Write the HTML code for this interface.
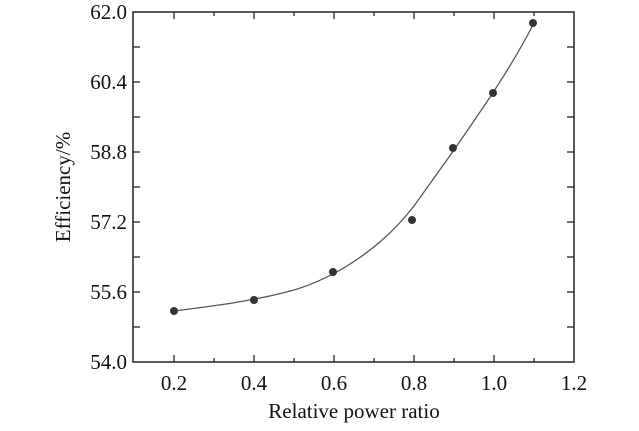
<!DOCTYPE html>
<html><head><style>
html,body{margin:0;padding:0;background:#fff;}
svg text{font-family:"Liberation Serif",serif;fill:#111;}
</style></head><body>
<svg width="639" height="426" xmlns="http://www.w3.org/2000/svg">
<rect x="133" y="12" width="441" height="350" fill="none" stroke="#222" stroke-width="1.5"/>
<g stroke="#222" stroke-width="1.3">
<line x1="174" y1="362" x2="174" y2="355"/><line x1="214" y1="362" x2="214" y2="358"/>
<line x1="254" y1="362" x2="254" y2="355"/><line x1="294" y1="362" x2="294" y2="358"/>
<line x1="334" y1="362" x2="334" y2="355"/><line x1="374" y1="362" x2="374" y2="358"/>
<line x1="414" y1="362" x2="414" y2="355"/><line x1="454" y1="362" x2="454" y2="358"/>
<line x1="494" y1="362" x2="494" y2="355"/><line x1="534" y1="362" x2="534" y2="358"/>
<line x1="174" y1="12" x2="174" y2="19"/><line x1="214" y1="12" x2="214" y2="16"/>
<line x1="254" y1="12" x2="254" y2="19"/><line x1="294" y1="12" x2="294" y2="16"/>
<line x1="334" y1="12" x2="334" y2="19"/><line x1="374" y1="12" x2="374" y2="16"/>
<line x1="414" y1="12" x2="414" y2="19"/><line x1="454" y1="12" x2="454" y2="16"/>
<line x1="494" y1="12" x2="494" y2="19"/><line x1="534" y1="12" x2="534" y2="16"/>
<line x1="133" y1="47" x2="140" y2="47"/><line x1="133" y1="82" x2="140" y2="82"/>
<line x1="133" y1="117" x2="140" y2="117"/><line x1="133" y1="152" x2="140" y2="152"/>
<line x1="133" y1="187" x2="140" y2="187"/><line x1="133" y1="222" x2="140" y2="222"/>
<line x1="133" y1="257" x2="140" y2="257"/><line x1="133" y1="292" x2="140" y2="292"/>
<line x1="133" y1="327" x2="140" y2="327"/>
<line x1="574" y1="47" x2="567" y2="47"/><line x1="574" y1="82" x2="567" y2="82"/>
<line x1="574" y1="117" x2="567" y2="117"/><line x1="574" y1="152" x2="567" y2="152"/>
<line x1="574" y1="187" x2="567" y2="187"/><line x1="574" y1="222" x2="567" y2="222"/>
<line x1="574" y1="257" x2="567" y2="257"/><line x1="574" y1="292" x2="567" y2="292"/>
<line x1="574" y1="327" x2="567" y2="327"/>
</g>
<g font-size="21" text-anchor="end">
<text x="127" y="19">62.0</text><text x="127" y="89">60.4</text>
<text x="127" y="159">58.8</text><text x="127" y="229">57.2</text>
<text x="127" y="299">55.6</text><text x="127" y="369">54.0</text>
</g>
<g font-size="21" text-anchor="middle">
<text x="174" y="390">0.2</text><text x="254" y="390">0.4</text><text x="334" y="390">0.6</text>
<text x="414" y="390">0.8</text><text x="494" y="390">1.0</text><text x="574" y="390">1.2</text>
<text x="354" y="418">Relative power ratio</text>
<text transform="translate(70,187) rotate(-90)">Efficiency/%</text>
</g>
<path d="M174,311 C214,306 254,301 294,290 C334,278 380,250 414,206 L454,150 C480,112 510,70 534,23" fill="none" stroke="#555" stroke-width="1.3"/>
<g fill="#333">
<circle cx="174" cy="311" r="4"/><circle cx="254" cy="300" r="4"/>
<circle cx="333" cy="272" r="4"/><circle cx="412" cy="220" r="4"/>
<circle cx="453" cy="148" r="4"/><circle cx="493" cy="93" r="4"/>
<circle cx="533" cy="23" r="4"/>
</g>
</svg>
</body></html>
